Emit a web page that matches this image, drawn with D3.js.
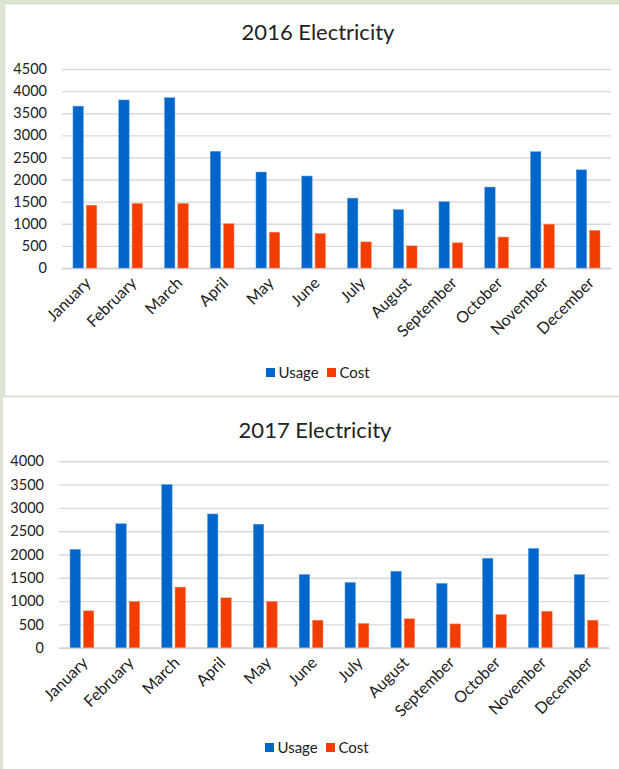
<!DOCTYPE html>
<html>
<head>
<meta charset="utf-8">
<script src="https://cdn.jsdelivr.net/npm/d3@7"></script>
<style>
  html, body { margin: 0; padding: 0; background: #dce4d2; }
  svg { display: block; }
  text { font-family: Lato, "Open Sans", sans-serif; fill: #222; }
</style>
</head>
<body>
<div id="svg"></div>
<script>
const months = ["January", "February", "March", "April", "May", "June",
                "July", "August", "September", "October", "November", "December"];
const seriesNames = ["Usage", "Cost"];
const seriesColours = ["#0066cc", "#f23c00"];

const usage2016 = [3660, 3800, 3850, 2640, 2170, 2080, 1580, 1320, 1500, 1830, 2630, 2220];
const cost2016 = [1420, 1460, 1460, 1000, 810, 780, 590, 500, 570, 700, 990, 850];
const ticks2016 = [0, 500, 1000, 1500, 2000, 2500, 3000, 3500, 4000, 4500];

const usage2017 = [2110, 2660, 3500, 2870, 2650, 1570, 1400, 1640, 1380, 1920, 2130, 1570];
const cost2017 = [790, 990, 1300, 1070, 990, 590, 520, 620, 510, 710, 780, 590];
const ticks2017 = [0, 500, 1000, 1500, 2000, 2500, 3000, 3500, 4000];

const width = 619;
const height = 769;

let svg = d3.select('#svg')
                .append('svg')
                    .attr('width', width)
                    .attr('height', height);

// green page behind the two pasted chart panels
svg.append('rect')
    .attr('width', width).attr('height', height)
    .attr('fill', '#dce4d2');

function drawChart(cfg) {
    let g = svg.append('g');

    // white panel
    g.append('rect')
        .attr('x', cfg.panel[0]).attr('y', cfg.panel[1])
        .attr('width', cfg.panel[2]).attr('height', cfg.panel[3])
        .attr('fill', '#fff')
        .attr('stroke', '#cfd6c6')
        .attr('stroke-width', 0.6);

    const rows = months.map((m, i) => ({month: m, Usage: cfg.usage[i], Cost: cfg.cost[i]}));

    const xScale = d3.scaleBand()
                        .domain(months)
                        .range([cfg.left, cfg.right]);

    const innerScale = d3.scaleBand()
                        .domain(seriesNames)
                        .range([xScale.bandwidth() * 0.24, xScale.bandwidth() * 0.76])
                        .paddingInner(0.22);

    const yScale = d3.scaleLinear()
                        .domain([0, cfg.ticks[cfg.ticks.length - 1]])
                        .range([cfg.bottom, cfg.top]);

    // title
    g.append('text')
        .attr('x', cfg.titleX)
        .attr('y', cfg.titleY)
        .attr('text-anchor', 'middle')
        .style('font-size', '22px')
        .text(cfg.title);

    // y-axis with gridlines
    let yAxis = g.append('g')
        .attr('transform', `translate(${cfg.left}, 0)`)
        .call(d3.axisLeft(yScale)
                .tickValues(cfg.ticks)
                .tickFormat(d3.format('d'))
                .tickSize(-(cfg.right - cfg.left))
                .tickPadding(cfg.left - cfg.labelRight));
    yAxis.select('.domain').remove();
    yAxis.selectAll('line')
        .attr('stroke', '#d9d9d9')
        .attr('stroke-width', 1.4);
    yAxis.selectAll('text')
        .style('font-size', '14.5px')
        .style('font-family', 'Lato, sans-serif')
        .attr('fill', '#222');

    // x-axis
    let xAxis = g.append('g')
        .attr('transform', `translate(0, ${cfg.bottom})`)
        .call(d3.axisBottom(xScale).tickSize(0).tickPadding(0));
    xAxis.select('.domain')
        .attr('stroke', '#d0d0d0')
        .attr('stroke-width', 1.4);
    xAxis.selectAll('text')
        .style('font-size', '16px')
        .style('font-family', 'Lato, sans-serif')
        .attr('fill', '#222')
        .attr('text-anchor', 'end')
        .attr('dy', 0)
        .attr('transform', 'translate(7, 16) rotate(-45)');

    // bars
    g.append('g')
        .selectAll('g')
        .data(rows)
        .enter()
            .append('g')
                .attr('transform', (d) => `translate(${xScale(d.month)}, 0)`)
            .selectAll('rect')
            .data((d) => seriesNames.map((s) => ({key: s, value: d[s]})))
            .enter()
                .append('rect')
                    .attr('x', (d) => innerScale(d.key))
                    .attr('y', (d) => yScale(d.value))
                    .attr('width', innerScale.bandwidth())
                    .attr('height', (d) => cfg.bottom - yScale(d.value))
                    .attr('fill', (d) => seriesColours[seriesNames.indexOf(d.key)])
                    .attr('stroke', (d) => d.key == 'Usage' ? '#5c9de0' : '#f8835c')
                    .attr('stroke-width', 0.5);

    // legend
    let legend = g.append('g')
        .attr('transform', `translate(${cfg.legendX}, ${cfg.legendY})`);
    let offsets = [0, 61];
    seriesNames.forEach((s, i) => {
        legend.append('rect')
            .attr('x', offsets[i])
            .attr('y', -10)
            .attr('width', 9)
            .attr('height', 9)
            .attr('fill', seriesColours[i]);
        legend.append('text')
            .attr('x', offsets[i] + 12.5)
            .attr('y', 0)
            .style('font-size', '15px')
            .text(s);
    });
}

drawChart({
    title: '2016 Electricity',
    usage: usage2016,
    cost: cost2016,
    ticks: ticks2016,
    panel: [5, 4, 620, 392],
    left: 62, right: 611, top: 69, bottom: 268,
    labelRight: 47,
    titleX: 318, titleY: 40,
    legendX: 266, legendY: 378
});

drawChart({
    title: '2017 Electricity',
    usage: usage2017,
    cost: cost2017,
    ticks: ticks2017,
    panel: [2.5, 397, 620, 380],
    left: 59, right: 609, top: 461.3, bottom: 647.7,
    labelRight: 44,
    titleX: 315, titleY: 438,
    legendX: 265, legendY: 753
});
</script>
</body>
</html>
